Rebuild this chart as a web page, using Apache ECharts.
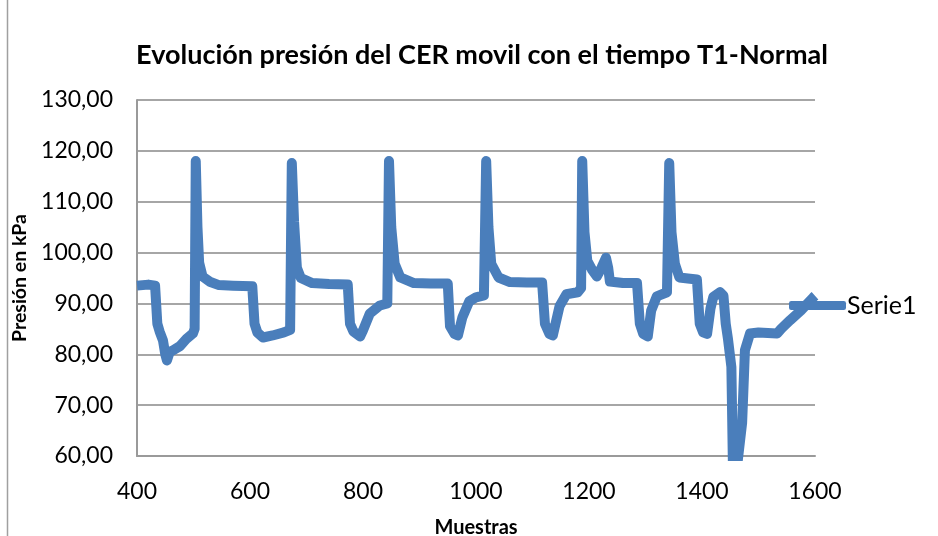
<!DOCTYPE html>
<html>
<head>
<meta charset="utf-8">
<script src="https://cdn.jsdelivr.net/npm/echarts@6/dist/echarts.min.js"></script>
<style>html,body{margin:0;padding:0;background:#fff}#c{width:938px;height:536px}</style>
</head>
<body>
<div id="c"></div>
<script>
const titleText = 'Evolución presión del CER movil con el tiempo T1-Normal';
const xAxisName = 'Muestras';
const yAxisName = 'Presión en kPa';
const seriesName = 'Serie1';
const xTicks = [400, 600, 800, 1000, 1200, 1400, 1600];
const yTicks = [60, 70, 80, 90, 100, 110, 120, 130];

const muestras = [
  400, 420, 432, 436, 440, 446, 450, 453, 458, 464, 476, 488, 499, 502,
  504, 507, 510, 516, 530, 545, 570, 604, 608, 613, 623, 640, 660, 671,
  674, 678, 683, 690, 710, 740, 773, 777, 783, 795, 800, 812, 830, 843,
  846, 850, 856, 866, 890, 920, 950, 954, 962, 968, 976, 988, 1000, 1014,
  1018, 1022, 1027, 1040, 1060, 1090, 1117, 1122, 1130, 1136, 1148, 1160, 1180, 1186,
  1188, 1192, 1197, 1206, 1214, 1222, 1230, 1234, 1237, 1260, 1285, 1290, 1296, 1304,
  1310, 1320, 1338, 1342, 1346, 1352, 1360, 1375, 1391, 1396, 1402, 1409, 1415, 1420,
  1432, 1438, 1442, 1446, 1452, 1455, 1459, 1471, 1476, 1485, 1500, 1533, 1540, 1556,
  1575, 1597, 1600
];
const presion = [
  93.5, 93.7, 93.5, 86.0, 84.5, 82.7, 80.0, 78.8, 80.5, 80.8, 81.6, 83.1, 84.1, 85.0,
  118.0, 105.0, 98.0, 95.3, 94.2, 93.6, 93.5, 93.4, 86.0, 84.3, 83.3, 83.7, 84.3, 84.8,
  117.6, 106.0, 97.0, 95.0, 94.0, 93.8, 93.7, 86.0, 84.5, 83.5, 84.7, 88.0, 89.6, 90.0,
  118.0, 105.0, 97.8, 95.1, 94.0, 93.9, 93.9, 85.5, 84.0, 83.7, 87.3, 90.4, 91.2, 91.6,
  118.0, 105.0, 97.8, 95.1, 94.2, 94.1, 94.1, 86.0, 84.0, 83.7, 89.5, 91.8, 92.2, 93.0,
  118.0, 104.0, 98.4, 96.5, 95.3, 97.0, 99.0, 97.0, 94.3, 94.0, 94.0, 86.0, 84.0, 83.5,
  88.6, 91.4, 92.2, 117.6, 104.0, 97.8, 95.1, 94.9, 94.7, 86.0, 84.3, 84.0, 89.0, 91.3,
  92.2, 91.5, 86.0, 83.0, 77.5, 56.0, 55.0, 66.5, 80.8, 84.1, 84.3, 84.1, 85.0, 86.7,
  88.6, 91.2, 91.5
];

const fontFam = 'Lato, "Open Sans", sans-serif';
const chart = echarts.init(document.getElementById('c'), null, {renderer: 'canvas'});
chart.setOption({
  animation: false,
  backgroundColor: '#ffffff',
  title: {
    text: titleText, left: 477, textAlign: 'center', top: 37,
    textStyle: {fontFamily: fontFam, fontSize: 27, fontWeight: 'bold', color: '#000'}
  },
  legend: {
    data: [seriesName], left: 789, top: 293, padding: 0,
    icon: 'roundRect', itemWidth: 57, itemHeight: 9, itemGap: 0,
    textStyle: {fontFamily: fontFam, fontSize: 25, color: '#000', padding: [12, 0, 0, -4]}
  },
  graphic: [{
    type: 'line', shape: {x1: 7.5, y1: 0, x2: 7.5, y2: 536},
    style: {stroke: '#a0a0a0', lineWidth: 1.5}
  }],
  grid: {left: 137, right: 123, top: 100, bottom: 80, containLabel: false, outerBoundsMode: 'none'},
  xAxis: {
    type: 'value', min: xTicks[0], max: xTicks[xTicks.length - 1], interval: 200,
    name: xAxisName, nameLocation: 'middle', nameGap: 62,
    nameTextStyle: {fontFamily: fontFam, fontSize: 20, fontWeight: 'bold', color: '#000'},
    axisLine: {show: true, lineStyle: {color: '#9a9a9a', width: 2}},
    axisTick: {show: false},
    splitLine: {show: false},
    axisLabel: {fontFamily: fontFam, fontSize: 23, color: '#000', margin: 24,
      formatter: v => String(v)}
  },
  yAxis: {
    type: 'value', min: yTicks[0], max: yTicks[yTicks.length - 1], interval: 10,
    name: yAxisName, nameLocation: 'middle', nameGap: 103, nameRotate: 90,
    nameTextStyle: {fontFamily: fontFam, fontSize: 19.5, fontWeight: 'bold', color: '#000'},
    axisLine: {show: true, lineStyle: {color: '#9a9a9a', width: 2}},
    axisTick: {show: false},
    splitLine: {show: true, lineStyle: {color: '#a6a6a6', width: 2}},
    axisLabel: {fontFamily: fontFam, fontSize: 23, color: '#000', margin: 24,
      formatter: v => v.toFixed(2).replace('.', ',')}
  },
  series: [{
    name: seriesName, type: 'line', symbol: 'none', clip: true,
    data: muestras.map((x, i) => [x, presion[i]]),
    lineStyle: {color: '#4a7ebb', width: 10, cap: 'butt', join: 'round'},
    itemStyle: {color: '#4a7ebb'}
  }]
});
</script>
</body>
</html>
